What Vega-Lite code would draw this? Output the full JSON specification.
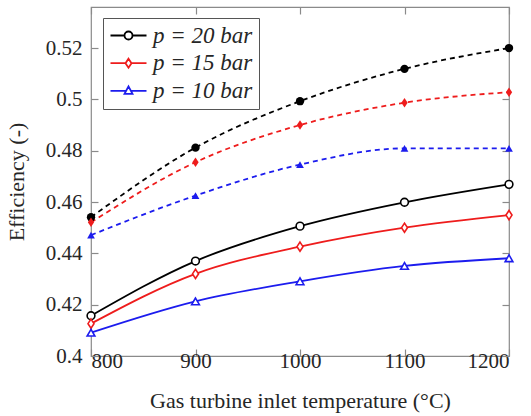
{
  "$schema": "https://vega.github.io/schema/vega-lite/v6.json",
  "autosize": "none",
  "width": 418,
  "height": 349,
  "padding": {"left": 91, "top": 7, "right": 22, "bottom": 60},
  "background": "white",
  "config": {
    "font": "Liberation Serif",
    "view": {"stroke": "#8a8a8a", "strokeWidth": 1.2},
    "axis": {
      "domain": false,
      "offset": -7,
      "tickColor": "#8a8a8a",
      "tickWidth": 1.2,
      "tickSize": 7,
      "grid": false,
      "labelFont": "Liberation Serif",
      "labelFontSize": 21,
      "labelColor": "#262626",
      "titleFont": "Liberation Serif",
      "titleFontSize": 22,
      "titleFontWeight": "normal",
      "titleColor": "#262626"
    }
  },
  "data": {
    "values": [
      {"T": 800, "eta": 0.4541, "p": "p = 20 bar", "kind": "dashed"},
      {"T": 900, "eta": 0.4812, "p": "p = 20 bar", "kind": "dashed"},
      {"T": 1000, "eta": 0.4993, "p": "p = 20 bar", "kind": "dashed"},
      {"T": 1100, "eta": 0.5119, "p": "p = 20 bar", "kind": "dashed"},
      {"T": 1200, "eta": 0.5200, "p": "p = 20 bar", "kind": "dashed"},
      {"T": 800, "eta": 0.4521, "p": "p = 15 bar", "kind": "dashed"},
      {"T": 900, "eta": 0.4755, "p": "p = 15 bar", "kind": "dashed"},
      {"T": 1000, "eta": 0.4900, "p": "p = 15 bar", "kind": "dashed"},
      {"T": 1100, "eta": 0.4987, "p": "p = 15 bar", "kind": "dashed"},
      {"T": 1200, "eta": 0.5028, "p": "p = 15 bar", "kind": "dashed"},
      {"T": 800, "eta": 0.4471, "p": "p = 10 bar", "kind": "dashed"},
      {"T": 900, "eta": 0.4625, "p": "p = 10 bar", "kind": "dashed"},
      {"T": 1000, "eta": 0.4746, "p": "p = 10 bar", "kind": "dashed"},
      {"T": 1100, "eta": 0.4809, "p": "p = 10 bar", "kind": "dashed"},
      {"T": 1200, "eta": 0.4809, "p": "p = 10 bar", "kind": "dashed"},
      {"T": 800, "eta": 0.4157, "p": "p = 20 bar", "kind": "solid"},
      {"T": 900, "eta": 0.4370, "p": "p = 20 bar", "kind": "solid"},
      {"T": 1000, "eta": 0.4506, "p": "p = 20 bar", "kind": "solid"},
      {"T": 1100, "eta": 0.4599, "p": "p = 20 bar", "kind": "solid"},
      {"T": 1200, "eta": 0.4669, "p": "p = 20 bar", "kind": "solid"},
      {"T": 800, "eta": 0.4126, "p": "p = 15 bar", "kind": "solid"},
      {"T": 900, "eta": 0.4320, "p": "p = 15 bar", "kind": "solid"},
      {"T": 1000, "eta": 0.4426, "p": "p = 15 bar", "kind": "solid"},
      {"T": 1100, "eta": 0.4500, "p": "p = 15 bar", "kind": "solid"},
      {"T": 1200, "eta": 0.4549, "p": "p = 15 bar", "kind": "solid"},
      {"T": 800, "eta": 0.4091, "p": "p = 10 bar", "kind": "solid"},
      {"T": 900, "eta": 0.4213, "p": "p = 10 bar", "kind": "solid"},
      {"T": 1000, "eta": 0.4291, "p": "p = 10 bar", "kind": "solid"},
      {"T": 1100, "eta": 0.4351, "p": "p = 10 bar", "kind": "solid"},
      {"T": 1200, "eta": 0.4381, "p": "p = 10 bar", "kind": "solid"}
    ]
  },
  "resolve": {"axis": {"x": "independent", "y": "independent"}},
  "encoding": {
    "x": {"field": "T", "type": "quantitative",
          "scale": {"domain": [800, 1200], "nice": false, "zero": false}},
    "y": {"field": "eta", "type": "quantitative",
          "scale": {"domain": [0.4, 0.536], "nice": false, "zero": false}}
  },
  "layer": [
    {
      "transform": [{"filter": "datum.kind === 'solid'"}],
      "mark": {"type": "line", "interpolate": "monotone", "strokeWidth": 1.8},
      "encoding": {
        "x": {"field": "T", "type": "quantitative",
              "axis": {"orient": "bottom", "values": [800, 900, 1000, 1100, 1200], "format": "d",
                       "title": "Gas turbine inlet temperature (°C)", "labelPadding": -6, "titlePadding": 19}},
        "y": {"field": "eta", "type": "quantitative",
              "axis": {"orient": "left", "values": [0.4, 0.42, 0.44, 0.46, 0.48, 0.5, 0.52], "format": ".2~f",
                       "title": "Efficiency (-)", "labelPadding": 9, "titlePadding": 17}},
        "color": {"field": "p", "type": "nominal",
                  "scale": {"domain": ["p = 20 bar", "p = 15 bar", "p = 10 bar"], "range": ["#000000", "#ee1c1c", "#1c1cee"]},
                  "legend": {
                    "title": null,
                    "orient": "none",
                    "legendX": 12,
                    "legendY": 11,
                    "padding": 6,
                    "rowPadding": 3.7,
                    "strokeColor": "#555555",
                    "fillColor": "white",
                    "symbolSize": 400,
                    "symbolStrokeWidth": 1.8,
                    "labelFont": "Liberation Serif",
                    "labelFontSize": 23,
                    "labelFontStyle": "italic",
                    "labelColor": "#262626",
                    "labelOffset": 21,
                    "labelLimit": 300,
                    "encode": {
                      "symbols": {
                        "update": {
                          "shape": {"signal": "datum.value === 'p = 20 bar' ? 'M-1,0L0.4,0M1.2,0L2.6,0M0.4,0A0.4,0.4,0,1,0,1.2,0A0.4,0.4,0,1,0,0.4,0Z' : (datum.value === 'p = 15 bar' ? 'M-1,0L0.5,0M1.1,0L2.6,0M0.8,-0.45L1.1,0L0.8,0.45L0.5,0Z' : 'M-1,0L0.56,0M1.04,0L2.6,0M0.8,-0.45L1.2,0.3L0.4,0.3Z')"},
                          "strokeWidth": {"value": 1.8}
                        }
                      }
                    }
                  }}
      }
    },
    {
      "transform": [{"filter": "datum.kind === 'dashed'"}],
      "mark": {"type": "line", "interpolate": "monotone", "strokeWidth": 1.8, "strokeDash": [5, 4]},
      "encoding": {
        "x": {"field": "T", "type": "quantitative",
              "axis": {"orient": "top", "values": [800, 900, 1000, 1100, 1200], "labels": false, "title": null}},
        "y": {"field": "eta", "type": "quantitative",
              "axis": {"orient": "right", "values": [0.4, 0.42, 0.44, 0.46, 0.48, 0.5, 0.52], "labels": false, "title": null}},
        "color": {"field": "p", "type": "nominal", "legend": null}
      }
    },
    {
      "transform": [{"filter": "datum.kind === 'solid' && datum.p === 'p = 20 bar'"}],
      "mark": {"type": "point", "shape": "circle", "filled": false, "stroke": "#000000", "fill": "white", "fillOpacity": 1, "opacity": 1, "strokeWidth": 1.6, "size": 60},
      "encoding": {"x": {"field": "T", "type": "quantitative", "axis": null}, "y": {"field": "eta", "type": "quantitative", "axis": null}}
    },
    {
      "transform": [{"filter": "datum.kind === 'solid' && datum.p === 'p = 15 bar'"}],
      "mark": {"type": "point", "shape": "M0,-1.3L0.85,0L0,1.3L-0.85,0Z", "filled": false, "stroke": "#ee1c1c", "fill": "white", "fillOpacity": 1, "opacity": 1, "strokeWidth": 1.6, "size": 50},
      "encoding": {"x": {"field": "T", "type": "quantitative", "axis": null}, "y": {"field": "eta", "type": "quantitative", "axis": null}}
    },
    {
      "transform": [{"filter": "datum.kind === 'solid' && datum.p === 'p = 10 bar'"}],
      "mark": {"type": "point", "shape": "triangle-up", "filled": false, "stroke": "#1c1cee", "fill": "white", "fillOpacity": 1, "opacity": 1, "strokeWidth": 1.6, "size": 60},
      "encoding": {"x": {"field": "T", "type": "quantitative", "axis": null}, "y": {"field": "eta", "type": "quantitative", "axis": null}}
    },
    {
      "transform": [{"filter": "datum.kind === 'dashed' && datum.p === 'p = 20 bar'"}],
      "mark": {"type": "point", "shape": "circle", "filled": true, "color": "#000000", "opacity": 1, "size": 70},
      "encoding": {"x": {"field": "T", "type": "quantitative", "axis": null}, "y": {"field": "eta", "type": "quantitative", "axis": null}}
    },
    {
      "transform": [{"filter": "datum.kind === 'dashed' && datum.p === 'p = 15 bar'"}],
      "mark": {"type": "point", "shape": "M0,-1.3L0.85,0L0,1.3L-0.85,0Z", "filled": true, "color": "#ee1c1c", "opacity": 1, "size": 55},
      "encoding": {"x": {"field": "T", "type": "quantitative", "axis": null}, "y": {"field": "eta", "type": "quantitative", "axis": null}}
    },
    {
      "transform": [{"filter": "datum.kind === 'dashed' && datum.p === 'p = 10 bar'"}],
      "mark": {"type": "point", "shape": "triangle-up", "filled": true, "color": "#1c1cee", "opacity": 1, "size": 60},
      "encoding": {"x": {"field": "T", "type": "quantitative", "axis": null}, "y": {"field": "eta", "type": "quantitative", "axis": null}}
    }
  ]
}
